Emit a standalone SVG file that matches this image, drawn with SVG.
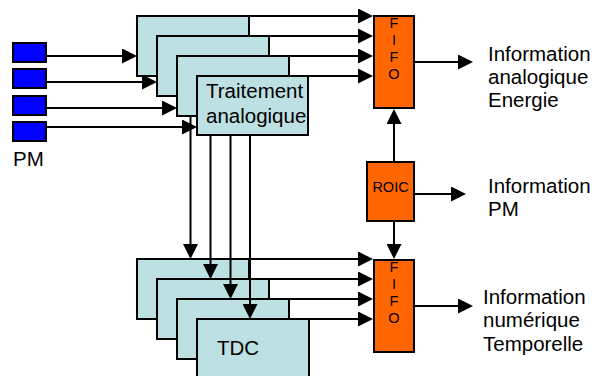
<svg xmlns="http://www.w3.org/2000/svg" width="595" height="376" viewBox="0 0 595 376">
<defs>
<marker id="ah" markerUnits="userSpaceOnUse" markerWidth="15" markerHeight="15" refX="13" refY="7.5" orient="auto" viewBox="0 0 15 15">
<path d="M0,0 L15,7.5 L0,15 z" fill="#000"/>
</marker>
<style>
.box{fill:#BDE0E3;stroke:#000;stroke-width:2}
.pm{fill:#0000FF;stroke:#000;stroke-width:2}
.or{fill:#FF6600;stroke:#000;stroke-width:2}
.a{stroke:#000;stroke-width:2;fill:none;marker-end:url(#ah)}
text{font-family:"Liberation Sans",Arial,sans-serif;fill:#000}
.t{font-size:20.5px}
.s{font-size:14.5px;text-anchor:middle}
</style>
</defs>
<rect width="595" height="376" fill="#fff"/>
<g id="pm">
<rect class="pm" x="13" y="43" width="33" height="19"/>
<rect class="pm" x="13" y="69" width="33" height="19"/>
<rect class="pm" x="13" y="96" width="33" height="19"/>
<rect class="pm" x="13" y="122" width="33" height="19"/>
<text class="t" x="13" y="166">PM</text>
</g>
<g id="traitement">
<rect class="box" x="137" y="16" width="112" height="60"/>
<rect class="box" x="157" y="36" width="112" height="60"/>
<rect class="box" x="177" y="56" width="112" height="60"/>
<rect class="box" x="197" y="76" width="111" height="59"/>
<text class="t" x="206" y="98">Traitement</text>
<text class="t" x="206" y="123">analogique</text>
</g>
<g id="tdc">
<rect class="box" x="137" y="259" width="112" height="60"/>
<rect class="box" x="157" y="279" width="112" height="60"/>
<rect class="box" x="177" y="299" width="112" height="60"/>
<rect class="box" x="197" y="319" width="112" height="60"/>
<text class="t" x="217" y="355">TDC</text>
</g>
<g id="fifo1">
<rect class="or" x="374" y="16" width="40" height="92"/>
<text class="s" x="394" y="28">F</text>
<text class="s" x="394" y="45">I</text>
<text class="s" x="394" y="62">F</text>
<text class="s" x="394" y="79">O</text>
</g>
<g id="roic">
<rect class="or" x="367" y="162" width="47" height="59"/>
<text class="s" x="390.5" y="192">ROIC</text>
</g>
<g id="fifo2">
<rect class="or" x="374" y="260" width="40" height="92"/>
<text class="s" x="394" y="272">F</text>
<text class="s" x="394" y="289">I</text>
<text class="s" x="394" y="306">F</text>
<text class="s" x="394" y="323">O</text>
</g>
<g id="out1">
<text class="t" x="488" y="61">Information</text>
<text class="t" x="488" y="84">analogique</text>
<text class="t" x="488" y="107">Energie</text>
</g>
<g id="out2">
<text class="t" x="488" y="193">Information</text>
<text class="t" x="488" y="216">PM</text>
</g>
<g id="out3">
<text class="t" x="483" y="304">Information</text>
<text class="t" x="483" y="327">numérique</text>
<text class="t" x="483" y="351">Temporelle</text>
</g>
<g id="connectors">
<line class="a" x1="46" y1="56" x2="135" y2="56"/>
<line class="a" x1="46" y1="82" x2="155" y2="82"/>
<line class="a" x1="46" y1="108" x2="175" y2="108"/>
<line class="a" x1="46" y1="127" x2="195" y2="127"/>
<line class="a" x1="249" y1="16" x2="371" y2="16"/>
<line class="a" x1="269" y1="36" x2="371" y2="36"/>
<line class="a" x1="289" y1="56" x2="371" y2="56"/>
<line class="a" x1="308" y1="76" x2="371" y2="76"/>
<line class="a" x1="190.5" y1="116" x2="190.5" y2="257"/>
<line class="a" x1="210.5" y1="135" x2="210.5" y2="277"/>
<line class="a" x1="230.5" y1="135" x2="230.5" y2="297"/>
<line class="a" x1="250" y1="135" x2="250" y2="317"/>
<line class="a" x1="249" y1="259" x2="371" y2="259"/>
<line class="a" x1="269" y1="279" x2="371" y2="279"/>
<line class="a" x1="289" y1="299" x2="371" y2="299"/>
<line class="a" x1="309" y1="319" x2="371" y2="319"/>
<line class="a" x1="394" y1="162" x2="394" y2="111"/>
<line class="a" x1="394" y1="221" x2="394" y2="257"/>
<line class="a" x1="414" y1="62" x2="471" y2="62"/>
<line class="a" x1="414" y1="194" x2="464" y2="194"/>
<line class="a" x1="414" y1="306" x2="471" y2="306"/>
</g>
</svg>
